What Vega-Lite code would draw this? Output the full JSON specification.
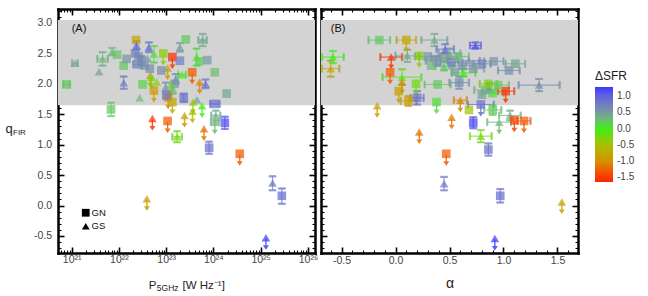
{
"$schema":"https://vega.github.io/schema/vega-lite/v6.json",
"padding":{"left":5,"top":5,"right":5,"bottom":0},
"spacing":2,
"datasets":{
"A":[
{"P":7.8e20,"q":1.99,"d":0.2,"s":"GN","xl":6.6e20,"xh":9.2e20},
{"P":1.17e21,"q":2.34,"d":0.4,"s":"GS","xl":1.02e21,"xh":1.34e21},
{"P":3.8e21,"q":2.2,"d":0.45,"s":"GS"},
{"P":4.5e21,"q":2.41,"d":0.3,"s":"GS","ql":2.3,"qh":2.52,"xl":3.5e21,"xh":5.8e21},
{"P":7.2e21,"q":2.53,"d":0.25,"s":"GS","ql":2.47,"qh":2.59},
{"P":9.1e21,"q":2.48,"d":0.25,"s":"GN"},
{"P":1.26e22,"q":2.3,"d":0.2,"s":"GN"},
{"P":1.26e22,"q":2.02,"d":0.8,"s":"GS","ql":1.92,"qh":2.12},
{"P":1.45e22,"q":2.41,"d":0.5,"s":"GN"},
{"P":3.16e22,"q":1.99,"d":0.15,"s":"GN"},
{"P":2.75e22,"q":1.77,"d":0.25,"s":"GS"},
{"P":6.8e21,"q":1.58,"d":0.2,"s":"GN","ql":1.47,"qh":1.69},
{"P":2.3e22,"q":2.72,"d":-0.8,"s":"GN"},
{"P":2.35e22,"q":2.63,"d":1.0,"s":"GS","ql":2.56,"qh":2.7},
{"P":4.3e22,"q":2.6,"d":0.9,"s":"GS","ql":2.52,"qh":2.68},
{"P":2.6e22,"q":2.45,"d":0.6,"s":"GN"},
{"P":3.0e22,"q":2.38,"d":0.7,"s":"GN","ql":2.3,"qh":2.46},
{"P":3.5e22,"q":2.3,"d":0.55,"s":"GN"},
{"P":2.5e22,"q":2.32,"d":0.65,"s":"GN","xl":2.0e22,"xh":3.1e22},
{"P":4.0e22,"q":2.42,"d":0.5,"s":"GS"},
{"P":2.2e22,"q":2.5,"d":0.7,"s":"GN"},
{"P":4.5e22,"q":2.25,"d":0.6,"s":"GN"},
{"P":5.5e22,"q":2.49,"d":0.1,"s":"GS","ql":2.35,"qh":2.62},
{"P":8.7e22,"q":2.5,"d":-0.35,"s":"GN","lim":1},
{"P":1.35e23,"q":2.44,"d":-1.55,"s":"GN","lim":1},
{"P":1.95e23,"q":2.6,"d":0.45,"s":"GS","ql":2.53,"qh":2.67},
{"P":2.6e23,"q":2.73,"d":0.2,"s":"GN"},
{"P":5.9e23,"q":2.72,"d":0.4,"s":"GS","ql":2.62,"qh":2.82,"xl":4.8e23,"xh":7.2e23},
{"P":1.95e23,"q":2.38,"d":0.75,"s":"GN"},
{"P":1.07e23,"q":2.26,"d":-0.9,"s":"GS","lim":1},
{"P":4.4e23,"q":2.44,"d":0.0,"s":"GS","ql":2.3,"qh":2.58},
{"P":5.0e23,"q":2.37,"d":0.15,"s":"GN"},
{"P":7.4e23,"q":2.39,"d":0.5,"s":"GN"},
{"P":1.07e24,"q":2.19,"d":0.25,"s":"GN"},
{"P":3.55e23,"q":2.19,"d":-1.3,"s":"GN","lim":1},
{"P":2.15e23,"q":2.15,"d":-0.05,"s":"GS","xl":1.8e23,"xh":2.6e23},
{"P":1.9e24,"q":1.84,"d":0.4,"s":"GN"},
{"P":5.1e23,"q":2.03,"d":-1.1,"s":"GS","lim":1},
{"P":6.8e23,"q":2.0,"d":0.85,"s":"GS","ql":1.93,"qh":2.07},
{"P":4.6e22,"q":2.14,"d":-0.9,"s":"GS","lim":1},
{"P":4.9e22,"q":2.11,"d":-0.2,"s":"GS","lim":1},
{"P":7.9e22,"q":2.22,"d":0.6,"s":"GN"},
{"P":5.5e22,"q":1.89,"d":-0.9,"s":"GN","lim":1},
{"P":6.3e22,"q":2.03,"d":-0.35,"s":"GS"},
{"P":9.8e22,"q":1.95,"d":0.55,"s":"GS","ql":1.88,"qh":2.02},
{"P":1.5e23,"q":2.0,"d":0.5,"s":"GN"},
{"P":1.1e23,"q":1.78,"d":-1.1,"s":"GN","lim":1},
{"P":1.26e23,"q":1.98,"d":-0.2,"s":"GS","lim":1},
{"P":2.35e23,"q":1.77,"d":0.85,"s":"GN","ql":1.7,"qh":1.84},
{"P":1.35e23,"q":1.7,"d":-0.8,"s":"GN","lim":1},
{"P":3.7e23,"q":1.7,"d":-0.45,"s":"GS","lim":1},
{"P":4.5e23,"q":1.74,"d":0.4,"s":"GS"},
{"P":5.75e23,"q":1.64,"d":0.0,"s":"GS","lim":1},
{"P":1.07e24,"q":1.67,"d":0.9,"s":"GN","xl":8.5e23,"xh":1.35e24},
{"P":1.12e24,"q":1.48,"d":0.35,"s":"GS","ql":1.4,"qh":1.56,"xl":9e23,"xh":1.4e24},
{"P":3.6e23,"q":1.55,"d":-0.5,"s":"GS","lim":1},
{"P":2.45e23,"q":1.48,"d":-0.9,"s":"GS","lim":1},
{"P":5.1e22,"q":1.43,"d":-1.55,"s":"GS","lim":1},
{"P":1.07e23,"q":1.39,"d":-1.3,"s":"GN","lim":1},
{"P":1.7e23,"q":1.13,"d":-0.25,"s":"GS","ql":1.04,"qh":1.22,"xl":1.35e23,"xh":2.15e23},
{"P":1.74e24,"q":1.36,"d":1.15,"s":"GN","ql":1.26,"qh":1.46},
{"P":1.07e24,"q":1.37,"d":0.3,"s":"GS","lim":1,"xl":8.8e23,"xh":1.3e24},
{"P":6.3e23,"q":1.26,"d":-1.2,"s":"GS","lim":1},
{"P":8.1e23,"q":0.95,"d":0.85,"s":"GN","ql":0.85,"qh":1.05},
{"P":3.6e24,"q":0.85,"d":-1.3,"s":"GN","lim":1},
{"P":3.9e22,"q":0.11,"d":-0.9,"s":"GS","lim":1},
{"P":1.78e25,"q":0.37,"d":0.8,"s":"GS","ql":0.25,"qh":0.48},
{"P":2.8e25,"q":0.16,"d":0.9,"s":"GN","ql":0.03,"qh":0.28},
{"P":1.29e25,"q":-0.53,"d":1.25,"s":"GS","lim":1},
{"P":1.38e23,"q":1.92,"d":0.3,"s":"GS","ql":1.84,"qh":2.0},
{"P":1.0e23,"q":1.81,"d":0.8,"s":"GN"},
{"P":1.6e23,"q":2.08,"d":0.6,"s":"GS","ql":2.0,"qh":2.16}
],
"B":[
{"a":-0.15,"q":2.72,"d":0.2,"s":"GN","xl":-0.25,"xh":-0.05},
{"a":0.1,"q":2.72,"d":-0.8,"s":"GN","lim":1,"xl":0.01,"xh":0.19},
{"a":0.36,"q":2.72,"d":0.4,"s":"GS","xl":0.24,"xh":0.48,"ql":2.62,"qh":2.82},
{"a":0.74,"q":2.63,"d":1.1,"s":"GS","xl":0.69,"xh":0.79,"ql":2.58,"qh":2.68},
{"a":0.46,"q":2.57,"d":0.9,"s":"GS","xl":0.38,"xh":0.54,"ql":2.5,"qh":2.65},
{"a":-0.58,"q":2.44,"d":0.0,"s":"GS","xl":-0.68,"xh":-0.48,"ql":2.34,"qh":2.54},
{"a":-0.6,"q":2.25,"d":-0.8,"s":"GS","xl":-0.68,"xh":-0.52,"ql":2.12,"qh":2.38},
{"a":-0.04,"q":2.44,"d":-1.55,"s":"GS","lim":1,"xl":-0.14,"xh":0.06},
{"a":-0.05,"q":2.19,"d":-1.3,"s":"GN","lim":1},
{"a":0.11,"q":2.46,"d":0.4,"s":"GS","xl":0.0,"xh":0.22,"ql":2.36,"qh":2.56},
{"a":0.22,"q":2.46,"d":-0.35,"s":"GN","lim":1},
{"a":0.06,"q":2.11,"d":-0.1,"s":"GS","xl":-0.12,"xh":0.24,"ql":1.98,"qh":2.24},
{"a":0.06,"q":2.03,"d":-1.1,"s":"GS","lim":1},
{"a":0.03,"q":1.88,"d":-0.9,"s":"GN","lim":1},
{"a":0.12,"q":1.72,"d":-0.9,"s":"GN","ql":1.64,"qh":1.8,"xl":0.05,"xh":0.19},
{"a":0.2,"q":1.77,"d":0.85,"s":"GN","ql":1.66,"qh":1.88,"xl":0.14,"xh":0.26},
{"a":0.19,"q":2.0,"d":-0.2,"s":"GN","lim":1},
{"a":0.39,"q":1.99,"d":0.2,"s":"GN","xl":0.27,"xh":0.51},
{"a":0.38,"q":1.7,"d":0.1,"s":"GN","lim":1},
{"a":-0.17,"q":1.64,"d":-0.9,"s":"GS","lim":1},
{"a":0.3,"q":2.45,"d":0.5,"s":"GN","xl":0.18,"xh":0.42},
{"a":0.38,"q":2.38,"d":0.6,"s":"GN","xl":0.28,"xh":0.48,"ql":2.3,"qh":2.46},
{"a":0.45,"q":2.42,"d":0.45,"s":"GN","xl":0.33,"xh":0.57},
{"a":0.52,"q":2.35,"d":0.7,"s":"GN","xl":0.42,"xh":0.62},
{"a":0.58,"q":2.45,"d":0.3,"s":"GN","xl":0.48,"xh":0.68},
{"a":0.62,"q":2.3,"d":0.55,"s":"GN","xl":0.5,"xh":0.74},
{"a":0.68,"q":2.38,"d":0.6,"s":"GS","xl":0.58,"xh":0.78},
{"a":0.5,"q":2.5,"d":0.4,"s":"GS","xl":0.4,"xh":0.6,"ql":2.42,"qh":2.58},
{"a":0.72,"q":2.25,"d":0.5,"s":"GN","xl":0.62,"xh":0.82},
{"a":0.8,"q":2.33,"d":0.7,"s":"GN","xl":0.72,"xh":0.88},
{"a":0.33,"q":2.3,"d":0.3,"s":"GN"},
{"a":0.55,"q":2.2,"d":0.45,"s":"GN"},
{"a":0.45,"q":2.29,"d":0.2,"s":"GS","xl":0.37,"xh":0.53,"ql":2.22,"qh":2.36},
{"a":0.63,"q":2.18,"d":0.0,"s":"GS","xl":0.52,"xh":0.74,"ql":2.12,"qh":2.24},
{"a":0.59,"q":2.02,"d":0.6,"s":"GN","xl":0.5,"xh":0.68,"ql":1.92,"qh":2.12},
{"a":0.91,"q":2.37,"d":0.5,"s":"GN","xl":0.82,"xh":1.0},
{"a":1.05,"q":2.22,"d":0.6,"s":"GN","xl":0.95,"xh":1.15},
{"a":1.11,"q":2.33,"d":0.4,"s":"GN","xl":1.02,"xh":1.2},
{"a":1.33,"q":1.98,"d":0.6,"s":"GS","xl":1.14,"xh":1.52,"ql":1.88,"qh":2.08},
{"a":1.02,"q":1.88,"d":-1.55,"s":"GN","lim":1,"xl":0.95,"xh":1.1},
{"a":0.83,"q":1.9,"d":0.3,"s":"GN","xl":0.73,"xh":0.93},
{"a":0.9,"q":1.85,"d":0.1,"s":"GN","xl":0.8,"xh":1.0},
{"a":0.95,"q":1.98,"d":0.2,"s":"GN","xl":0.85,"xh":1.05},
{"a":0.8,"q":1.82,"d":0.45,"s":"GN"},
{"a":0.87,"q":1.93,"d":0.55,"s":"GS","ql":1.85,"qh":2.01},
{"a":0.86,"q":2.0,"d":-0.3,"s":"GN","xl":0.78,"xh":0.94},
{"a":0.6,"q":1.73,"d":-1.1,"s":"GS","lim":1,"xl":0.54,"xh":0.66},
{"a":0.68,"q":1.57,"d":-0.45,"s":"GN"},
{"a":0.79,"q":1.66,"d":0.9,"s":"GN","lim":1,"xl":0.67,"xh":0.91},
{"a":0.9,"q":1.57,"d":0.2,"s":"GN","ql":1.49,"qh":1.65,"xl":0.82,"xh":0.98},
{"a":1.06,"q":1.48,"d":0.35,"s":"GS","ql":1.4,"qh":1.56,"xl":0.96,"xh":1.16},
{"a":1.1,"q":1.4,"d":-1.45,"s":"GN","lim":1},
{"a":1.19,"q":1.39,"d":-1.3,"s":"GN","lim":1,"xl":1.13,"xh":1.25},
{"a":0.52,"q":1.45,"d":-1.15,"s":"GS","lim":1},
{"a":0.72,"q":1.36,"d":1.2,"s":"GN","ql":1.27,"qh":1.45},
{"a":0.96,"q":1.37,"d":0.3,"s":"GS","lim":1,"xl":0.85,"xh":1.07},
{"a":0.22,"q":1.21,"d":-1.2,"s":"GS","lim":1},
{"a":0.79,"q":1.14,"d":-0.25,"s":"GS","ql":1.04,"qh":1.24,"xl":0.69,"xh":0.89},
{"a":0.86,"q":0.92,"d":0.85,"s":"GN","ql":0.82,"qh":1.02},
{"a":0.47,"q":0.85,"d":-1.3,"s":"GN","lim":1},
{"a":0.45,"q":0.36,"d":0.8,"s":"GS","ql":0.25,"qh":0.47},
{"a":0.97,"q":0.16,"d":0.9,"s":"GN","ql":0.05,"qh":0.27},
{"a":0.92,"q":-0.54,"d":1.25,"s":"GS","lim":1},
{"a":1.54,"q":0.06,"d":-0.9,"s":"GS","lim":1}
]
},
"hconcat":[
{
"width":257,"height":244,
"data":{"name":"A"},
"resolve":{"axis":{"x":"independent","y":"independent"}},
"layer":[
{"data":{"values":[{}]},"mark":{"type":"rect","color":"#d3d3d3"},
 "encoding":{"y":{"datum":3.05,"type":"quantitative","axis":null},"y2":{"datum":1.65}}},
{"transform":[{"filter":"isValid(datum.xl)"}],
 "mark":{"type":"errorbar","size":7,"thickness":1.2,"rule":{"opacity":0.7},"ticks":{"opacity":0.7}},
 "encoding":{"x":{"field":"xl","type":"quantitative","scale":{"type":"log"},"axis":null},"x2":{"field":"xh"},
  "y":{"field":"q","type":"quantitative","axis":null},
  "stroke":{"field":"d","type":"quantitative","legend":null,"scale":{"domain":[-1.6501,-1.3,-1.0,-0.5,0.0,0.25,0.5,1.0,1.2801],"range":["#ff2200","#f05a00","#d39400","#a8c000","#40ee18","#6cc070","#7a98a4","#6462dc","#3a3aff"],"interpolate":"rgb"}}}},
{"transform":[{"filter":"isValid(datum.ql)"}],
 "mark":{"type":"errorbar","size":7,"thickness":1.2,"rule":{"opacity":0.7},"ticks":{"opacity":0.7}},
 "encoding":{"x":{"field":"P","type":"quantitative","scale":{"type":"log"},"axis":null},
  "y":{"field":"ql","type":"quantitative","axis":null},"y2":{"field":"qh"},
  "stroke":{"field":"d","type":"quantitative","legend":null,"scale":{"domain":[-1.6501,-1.3,-1.0,-0.5,0.0,0.25,0.5,1.0,1.2801],"range":["#ff2200","#f05a00","#d39400","#a8c000","#40ee18","#6cc070","#7a98a4","#6462dc","#3a3aff"],"interpolate":"rgb"}}}},
{"transform":[{"filter":"datum.lim == 1"}],
 "mark":{"type":"point","filled":true,"shape":"M-0.14,0.2L-0.14,1.5L-0.6,1.5L0,2.4L0.6,1.5L0.14,1.5L0.14,0.2Z","size":100,"opacity":0.85,"strokeWidth":0},
 "encoding":{"x":{"field":"P","type":"quantitative","scale":{"type":"log"},"axis":null},
  "y":{"field":"q","type":"quantitative","axis":null},
  "fill":{"field":"d","type":"quantitative","legend":null,"scale":{"domain":[-1.6502,-1.3,-1.0,-0.5,0.0,0.25,0.5,1.0,1.2802],"range":["#ff2200","#f05a00","#d39400","#a8c000","#40ee18","#6cc070","#7a98a4","#6462dc","#3a3aff"],"interpolate":"rgb"}}}},
{"mark":{"type":"point","filled":true,"size":75,"opacity":0.72,"strokeWidth":0},
 "encoding":{
  "x":{"field":"P","type":"quantitative","scale":{"type":"log","domain":[5.13e20,1.41e26],"nice":false},
   "axis":{"orient":"bottom","domain":true,"values":[6e20,7e20,8e20,9e20,1e21,2e21,3e21,4e21,5e21,6e21,7e21,8e21,9e21,1e22,2e22,3e22,4e22,5e22,6e22,7e22,8e22,9e22,1e23,2e23,3e23,4e23,5e23,6e23,7e23,8e23,9e23,1e24,2e24,3e24,4e24,5e24,6e24,7e24,8e24,9e24,1e25,2e25,3e25,4e25,5e25,6e25,7e25,8e25,9e25,1e26],
    "labelExpr":"abs(log(datum.value)/LN10 - round(log(datum.value)/LN10)) < 0.01 ? ['10²¹','10²²','10²³','10²⁴','10²⁵','10²⁶'][round(log(datum.value)/LN10)-21] : ''",
    "tickSize":{"condition":{"test":"abs(log(datum.value)/LN10 - round(log(datum.value)/LN10)) < 0.01","value":-6},"value":-3},
    "tickWidth":{"condition":{"test":"abs(log(datum.value)/LN10 - round(log(datum.value)/LN10)) < 0.01","value":1.6},"value":1.1},
    "labelPadding":7,"title":"P","titleFontSize":11.5,"titleX":90.3,"titleY":35.5,"titleAlign":"left","titleBaseline":"alphabetic"}},
  "y":{"field":"q","type":"quantitative","scale":{"domain":[-0.78,3.23],"nice":false,"zero":false},
   "axis":{"orient":"left","domain":true,"values":[-0.7,-0.6,-0.5,-0.4,-0.3,-0.2,-0.1,0,0.1,0.2,0.3,0.4,0.5,0.6,0.7,0.8,0.9,1,1.1,1.2,1.3,1.4,1.5,1.6,1.7,1.8,1.9,2,2.1,2.2,2.3,2.4,2.5,2.6,2.7,2.8,2.9,3,3.1,3.2],
    "labelExpr":"abs(datum.value*2 - round(datum.value*2)) < 0.01 ? replace(format(datum.value,'.1f'),'−','-') : ''",
    "tickSize":{"condition":{"test":"abs(datum.value*2 - round(datum.value*2)) < 0.01","value":-6},"value":-3},
    "tickWidth":{"condition":{"test":"abs(datum.value*2 - round(datum.value*2)) < 0.01","value":1.6},"value":1.1},
    "labelPadding":12.3,"title":"q","titleFontSize":13,"titleAngle":0,"titleX":-53,"titleY":123.5,"titleAlign":"left","titleBaseline":"alphabetic"}},
  "color":{"field":"d","type":"quantitative","scale":{"domain":[-1.65,-1.3,-1.0,-0.5,0.0,0.25,0.5,1.0,1.28],"range":["#ff2200","#f05a00","#d39400","#a8c000","#40ee18","#6cc070","#7a98a4","#6462dc","#3a3aff"],"interpolate":"rgb"},
   "legend":{"type":"gradient","title":"ΔSFR","orient":"none","legendX":537,"legendY":62,"direction":"vertical","gradientLength":95,"gradientThickness":18,"gradientStrokeWidth":0,"gradientOpacity":1,"values":[-1.5,-1,-0.5,0,0.5,1],"labelExpr":"replace(format(datum.value,'.1f'),'−','-')","labelFontSize":10,"labelColor":"#444","titleFontSize":12,"titleFontWeight":"normal","titleColor":"#222","titlePadding":4,"labelOffset":4}},
  "shape":{"field":"s","type":"nominal","scale":{"domain":["GN","GS"],"range":["square","triangle-up"]},
   "legend":{"title":null,"orient":"none","legendX":23,"legendY":199,"symbolFillColor":"black","symbolStrokeColor":"black","symbolOpacity":1,"symbolSize":60,"symbolStrokeWidth":0,"labelFontSize":9.5,"labelColor":"#111","labelOffset":1,"rowPadding":2.5}}
 }},
{"mark":{"type":"point","opacity":0},
 "encoding":{
  "x":{"field":"P","type":"quantitative","scale":{"type":"log"},
   "axis":{"orient":"top","domain":true,"labels":false,"title":null,"values":[6e20,7e20,8e20,9e20,1e21,2e21,3e21,4e21,5e21,6e21,7e21,8e21,9e21,1e22,2e22,3e22,4e22,5e22,6e22,7e22,8e22,9e22,1e23,2e23,3e23,4e23,5e23,6e23,7e23,8e23,9e23,1e24,2e24,3e24,4e24,5e24,6e24,7e24,8e24,9e24,1e25,2e25,3e25,4e25,5e25,6e25,7e25,8e25,9e25,1e26],
    "tickSize":{"condition":{"test":"abs(log(datum.value)/LN10 - round(log(datum.value)/LN10)) < 0.01","value":-6},"value":-3},
    "tickWidth":{"condition":{"test":"abs(log(datum.value)/LN10 - round(log(datum.value)/LN10)) < 0.01","value":1.6},"value":1.1}}},
  "y":{"field":"q","type":"quantitative",
   "axis":{"orient":"right","domain":true,"labels":false,"title":null,"values":[-0.7,-0.6,-0.5,-0.4,-0.3,-0.2,-0.1,0,0.1,0.2,0.3,0.4,0.5,0.6,0.7,0.8,0.9,1,1.1,1.2,1.3,1.4,1.5,1.6,1.7,1.8,1.9,2,2.1,2.2,2.3,2.4,2.5,2.6,2.7,2.8,2.9,3,3.1,3.2],
    "tickSize":{"condition":{"test":"abs(datum.value*2 - round(datum.value*2)) < 0.01","value":-6},"value":-3},
    "tickWidth":{"condition":{"test":"abs(datum.value*2 - round(datum.value*2)) < 0.01","value":1.6},"value":1.1}}}
 }},
{"mark":{"type":"point","opacity":0},
 "encoding":{
  "x":{"field":"P","type":"quantitative","scale":{"type":"log"},
   "axis":{"orient":"bottom","labels":false,"ticks":false,"domain":false,"title":"5GHz","titleFontSize":8.5,"titleX":98.3,"titleY":37.5,"titleAlign":"left","titleBaseline":"alphabetic"}},
  "y":{"field":"q","type":"quantitative",
   "axis":{"orient":"left","labels":false,"ticks":false,"domain":false,"title":"FIR","titleFontSize":8,"titleAngle":0,"titleX":-45.5,"titleY":125.5,"titleAlign":"left","titleBaseline":"alphabetic"}}
 }},
{"mark":{"type":"point","opacity":0},
 "encoding":{
  "x":{"field":"P","type":"quantitative","scale":{"type":"log"},
   "axis":{"orient":"bottom","labels":false,"ticks":false,"domain":false,"title":"[W Hz⁻¹]","titleFontSize":11.5,"titleX":124,"titleY":35.5,"titleAlign":"left","titleBaseline":"alphabetic"}},
  "y":{"field":"q","type":"quantitative","axis":null}
 }},
{"data":{"values":[{"t":"(A)"}]},"mark":{"type":"text","align":"left","baseline":"middle","fontSize":11,"color":"#111"},
 "encoding":{"text":{"field":"t"},"x":{"datum":1.0e21,"type":"quantitative","scale":{"type":"log"},"axis":null},"y":{"datum":2.9,"type":"quantitative","axis":null}}}
]
},
{
"width":257,"height":244,
"data":{"name":"B"},
"resolve":{"axis":{"x":"independent","y":"independent"}},
"layer":[
{"data":{"values":[{}]},"mark":{"type":"rect","color":"#d3d3d3"},
 "encoding":{"y":{"datum":3.05,"type":"quantitative","axis":null},"y2":{"datum":1.65}}},
{"transform":[{"filter":"isValid(datum.xl)"}],
 "mark":{"type":"errorbar","size":7,"thickness":1.2,"rule":{"opacity":0.7},"ticks":{"opacity":0.7}},
 "encoding":{"x":{"field":"xl","type":"quantitative","axis":null},"x2":{"field":"xh"},
  "y":{"field":"q","type":"quantitative","axis":null},
  "stroke":{"field":"d","type":"quantitative","legend":null,"scale":{"domain":[-1.6501,-1.3,-1.0,-0.5,0.0,0.25,0.5,1.0,1.2801],"range":["#ff2200","#f05a00","#d39400","#a8c000","#40ee18","#6cc070","#7a98a4","#6462dc","#3a3aff"],"interpolate":"rgb"}}}},
{"transform":[{"filter":"isValid(datum.ql)"}],
 "mark":{"type":"errorbar","size":7,"thickness":1.2,"rule":{"opacity":0.7},"ticks":{"opacity":0.7}},
 "encoding":{"x":{"field":"a","type":"quantitative","axis":null},
  "y":{"field":"ql","type":"quantitative","axis":null},"y2":{"field":"qh"},
  "stroke":{"field":"d","type":"quantitative","legend":null,"scale":{"domain":[-1.6501,-1.3,-1.0,-0.5,0.0,0.25,0.5,1.0,1.2801],"range":["#ff2200","#f05a00","#d39400","#a8c000","#40ee18","#6cc070","#7a98a4","#6462dc","#3a3aff"],"interpolate":"rgb"}}}},
{"transform":[{"filter":"datum.lim == 1"}],
 "mark":{"type":"point","filled":true,"shape":"M-0.14,0.2L-0.14,1.5L-0.6,1.5L0,2.4L0.6,1.5L0.14,1.5L0.14,0.2Z","size":100,"opacity":0.85,"strokeWidth":0},
 "encoding":{"x":{"field":"a","type":"quantitative","axis":null},
  "y":{"field":"q","type":"quantitative","axis":null},
  "fill":{"field":"d","type":"quantitative","legend":null,"scale":{"domain":[-1.6502,-1.3,-1.0,-0.5,0.0,0.25,0.5,1.0,1.2802],"range":["#ff2200","#f05a00","#d39400","#a8c000","#40ee18","#6cc070","#7a98a4","#6462dc","#3a3aff"],"interpolate":"rgb"}}}},
{"mark":{"type":"point","filled":true,"size":75,"opacity":0.72,"strokeWidth":0},
 "encoding":{
  "x":{"field":"a","type":"quantitative","scale":{"domain":[-0.69,1.69],"nice":false,"zero":false},
   "axis":{"orient":"bottom","domain":true,"values":[-0.6,-0.5,-0.4,-0.3,-0.2,-0.1,0,0.1,0.2,0.3,0.4,0.5,0.6,0.7,0.8,0.9,1,1.1,1.2,1.3,1.4,1.5,1.6],
    "labelExpr":"abs(datum.value*2 - round(datum.value*2)) < 0.01 ? replace(format(datum.value,'.1f'),'−','-') : ''",
    "tickSize":{"condition":{"test":"abs(datum.value*2 - round(datum.value*2)) < 0.01","value":-6},"value":-3},
    "tickWidth":{"condition":{"test":"abs(datum.value*2 - round(datum.value*2)) < 0.01","value":1.6},"value":1.1},
    "labelPadding":8,"title":"α","titleFontSize":14,"titleY":34,"titleBaseline":"alphabetic"}},
  "y":{"field":"q","type":"quantitative","scale":{"domain":[-0.78,3.23],"nice":false,"zero":false},
   "axis":{"orient":"left","domain":true,"labels":false,"title":null,"values":[-0.7,-0.6,-0.5,-0.4,-0.3,-0.2,-0.1,0,0.1,0.2,0.3,0.4,0.5,0.6,0.7,0.8,0.9,1,1.1,1.2,1.3,1.4,1.5,1.6,1.7,1.8,1.9,2,2.1,2.2,2.3,2.4,2.5,2.6,2.7,2.8,2.9,3,3.1,3.2],
    "tickSize":{"condition":{"test":"abs(datum.value*2 - round(datum.value*2)) < 0.01","value":-6},"value":-3},
    "tickWidth":{"condition":{"test":"abs(datum.value*2 - round(datum.value*2)) < 0.01","value":1.6},"value":1.1}}},
  "color":{"field":"d","type":"quantitative","scale":{"domain":[-1.65,-1.3,-1.0,-0.5,0.0,0.25,0.5,1.0,1.28],"range":["#ff2200","#f05a00","#d39400","#a8c000","#40ee18","#6cc070","#7a98a4","#6462dc","#3a3aff"],"interpolate":"rgb"},
   "legend":{"type":"gradient","title":"ΔSFR","orient":"none","legendX":537,"legendY":62,"direction":"vertical","gradientLength":95,"gradientThickness":18,"gradientStrokeWidth":0,"gradientOpacity":1,"values":[-1.5,-1,-0.5,0,0.5,1],"labelExpr":"replace(format(datum.value,'.1f'),'−','-')","labelFontSize":10,"labelColor":"#444","titleFontSize":12,"titleFontWeight":"normal","titleColor":"#222","titlePadding":4,"labelOffset":4}},
  "shape":{"field":"s","type":"nominal","scale":{"domain":["GN","GS"],"range":["square","triangle-up"]},
   "legend":{"title":null,"orient":"none","legendX":23,"legendY":199,"symbolFillColor":"black","symbolStrokeColor":"black","symbolOpacity":1,"symbolSize":60,"symbolStrokeWidth":0,"labelFontSize":9.5,"labelColor":"#111","labelOffset":1,"rowPadding":2.5}}
 }},
{"mark":{"type":"point","opacity":0},
 "encoding":{
  "x":{"field":"a","type":"quantitative",
   "axis":{"orient":"top","domain":true,"labels":false,"title":null,"values":[-0.6,-0.5,-0.4,-0.3,-0.2,-0.1,0,0.1,0.2,0.3,0.4,0.5,0.6,0.7,0.8,0.9,1,1.1,1.2,1.3,1.4,1.5,1.6],
    "tickSize":{"condition":{"test":"abs(datum.value*2 - round(datum.value*2)) < 0.01","value":-6},"value":-3},
    "tickWidth":{"condition":{"test":"abs(datum.value*2 - round(datum.value*2)) < 0.01","value":1.6},"value":1.1}}},
  "y":{"field":"q","type":"quantitative",
   "axis":{"orient":"right","domain":true,"labels":false,"title":null,"values":[-0.7,-0.6,-0.5,-0.4,-0.3,-0.2,-0.1,0,0.1,0.2,0.3,0.4,0.5,0.6,0.7,0.8,0.9,1,1.1,1.2,1.3,1.4,1.5,1.6,1.7,1.8,1.9,2,2.1,2.2,2.3,2.4,2.5,2.6,2.7,2.8,2.9,3,3.1,3.2],
    "tickSize":{"condition":{"test":"abs(datum.value*2 - round(datum.value*2)) < 0.01","value":-6},"value":-3},
    "tickWidth":{"condition":{"test":"abs(datum.value*2 - round(datum.value*2)) < 0.01","value":1.6},"value":1.1}}}
 }},
{"data":{"values":[{"t":"(B)"}]},"mark":{"type":"text","align":"left","baseline":"middle","fontSize":11,"color":"#111"},
 "encoding":{"text":{"field":"t"},"x":{"datum":-0.6,"type":"quantitative","axis":null},"y":{"datum":2.9,"type":"quantitative","axis":null}}}
]
}
],
"resolve":{"scale":{"color":"shared","shape":"shared","fill":"shared","stroke":"shared"},"legend":{"color":"shared","shape":"shared"}},
"config":{
 "view":{"stroke":null},
 "font":"Liberation Sans",
 "axis":{"grid":false,"domain":false,"tickColor":"black","labelFont":"Liberation Sans","labelFontSize":10.5,"labelColor":"#444","titleFont":"Liberation Sans","titleFontWeight":"normal","titleColor":"#222","labelOverlap":false,"labelFlush":false,"labelBound":false,"zindex":1,"domainColor":"black","domainWidth":2.5,"domainCap":"square"},
 "legend":{"labelFont":"Liberation Sans","titleFont":"Liberation Sans","titleFontWeight":"normal"}
}
}
